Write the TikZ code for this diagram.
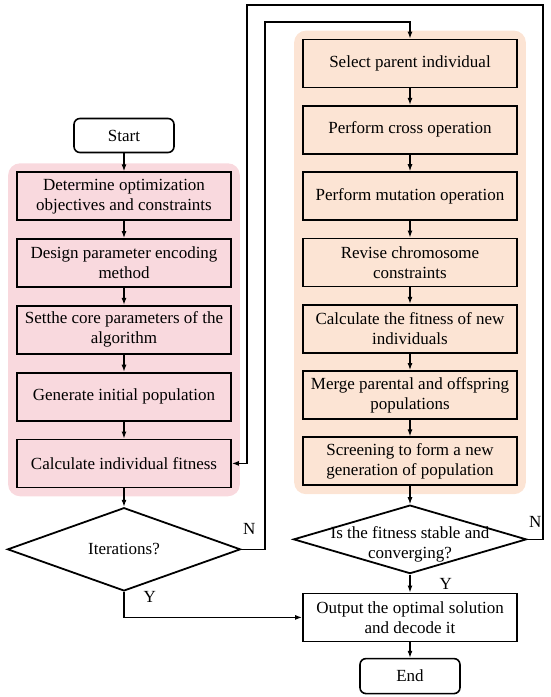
\documentclass[tikz,border=0pt]{standalone}
\usepackage{fontspec}
\setmainfont{Liberation Serif}
\usetikzlibrary{arrows.meta,positioning,fit,backgrounds,shapes.geometric}
\definecolor{palPink}{HTML}{F9D9DE}
\definecolor{palPeach}{HTML}{FCE4D4}

\begin{document}
\begin{tikzpicture}[
  x=1pt, y=-1pt,
  font=\fontsize{17}{20}\selectfont,
  box/.style={draw, align=center, inner xsep=2pt, inner ysep=2pt, minimum width=214pt, minimum height=48pt, line width=1.8pt},
  pinkbox/.style={box, fill=palPink},
  peachbox/.style={box, fill=palPeach},
  term/.style={draw, rounded corners=6pt, minimum width=100pt, minimum height=34pt, line width=1.6pt},
  decision/.style={draw, diamond, minimum width=233pt, minimum height=70pt, inner sep=0pt, line width=1.8pt},
  arrow/.style={-{Latex[length=7pt, width=5pt]}, line width=1.2pt},
  lbl/.style={inner sep=1pt},
]
\useasboundingbox (0,0) rectangle (550,697);

% left column
\node[term] (start) at (124,135.5) {Start};
\node[pinkbox, below=18pt of start] (obj) {Determine optimization\\objectives and constraints};
\node[pinkbox, below=17pt of obj] (enc) {Design parameter encoding\\method};
\node[pinkbox, below=17pt of enc] (par) {Setthe core parameters of the\\algorithm};
\node[pinkbox, below=17pt of par] (init) {Generate initial population};
\node[pinkbox, below=17pt of init] (indfit) {Calculate individual fitness};
\node[decision, below=18.5pt of indfit] (iter) {Iterations?};

% right column
\node[peachbox] (sel) at (410,63.5) {Select parent individual};
\node[peachbox, below=16.5pt of sel] (cross) {Perform cross operation};
\node[peachbox, below=16.5pt of cross] (mut) {Perform mutation operation};
\node[peachbox, below=16.5pt of mut] (rev) {Revise chromosome\\constraints};
\node[peachbox, below=16.5pt of rev] (newfit) {Calculate the fitness of new\\individuals};
\node[peachbox, below=16.5pt of newfit] (merge) {Merge parental and offspring\\populations};
\node[peachbox, below=16.5pt of merge] (scr) {Screening to form a new\\generation of population};
\node[decision, minimum height=68.5pt, below=18pt of scr,
  label={[align=center, yshift=-5pt]center:Is the fitness stable and\\converging?}] (conv) {};
\node[box, below=18pt of conv] (out) {Output the optimal solution\\and decode it};
\node[term, minimum height=35pt, below=15.5pt of out] (stop) {End};

\begin{scope}[on background layer]
\node[fit=(obj)(indfit), fill=palPink, rounded corners=12pt, inner sep=8pt] (pinkbg) {};
\node[fit=(sel)(scr), fill=palPeach, rounded corners=12pt, inner sep=8pt] (peachbg) {};
\end{scope}

\coordinate (loopin) at (265,22);
\coordinate (loopout) at (543,5);
\coordinate (loopback) at (247,5);

\draw[arrow] (start) -- (obj);
\draw[arrow] (obj) -- (enc);
\draw[arrow] (enc) -- (par);
\draw[arrow] (par) -- (init);
\draw[arrow] (init) -- (indfit);
\draw[arrow] (indfit) -- (iter);
\draw[arrow] (sel) -- (cross);
\draw[arrow] (cross) -- (mut);
\draw[arrow] (mut) -- (rev);
\draw[arrow] (rev) -- (newfit);
\draw[arrow] (newfit) -- (merge);
\draw[arrow] (merge) -- (scr);
\draw[arrow] (scr) -- (conv);
\draw[arrow] (conv) -- (out) node[midway, lbl, right=28pt] {Y};
\draw[arrow] (out) -- (stop);
\draw[arrow] (iter.south) |- (out.west) node[pos=0.1, lbl, right=18pt] {Y};
\draw[arrow] (iter.east) node[lbl, above right=13pt and 0pt] {N} -| (loopin) -| (sel.north);
\draw[arrow] (conv.east) node[lbl, above right=10pt and 0pt] {N} -| (loopout) -- (loopback) |- (indfit.east);
\end{tikzpicture}
\end{document}
